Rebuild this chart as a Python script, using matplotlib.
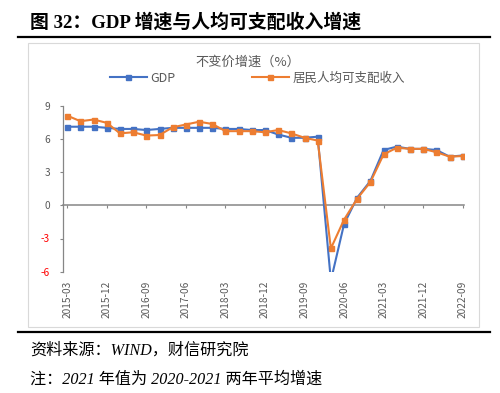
import matplotlib
matplotlib.use("Agg")
import matplotlib.pyplot as plt
from matplotlib.lines import Line2D
from matplotlib.patches import Rectangle
import numpy as np

plt.rcParams['font.family'] = ['Noto Sans CJK SC', 'DejaVu Sans']

quarters = ["2015-03", "2015-06", "2015-09", "2015-12",
            "2016-03", "2016-06", "2016-09", "2016-12",
            "2017-03", "2017-06", "2017-09", "2017-12",
            "2018-03", "2018-06", "2018-09", "2018-12",
            "2019-03", "2019-06", "2019-09", "2019-12",
            "2020-03", "2020-06", "2020-09", "2020-12",
            "2021-03", "2021-06", "2021-09", "2021-12",
            "2022-03", "2022-06", "2022-09"]
gdp = [7.1, 7.1, 7.1, 7.0, 6.9, 6.9, 6.8, 6.9, 7.0, 7.0, 7.0, 7.0,
       6.9, 6.9, 6.8, 6.8, 6.4, 6.1, 6.1, 6.2, -6.8, -1.7, 0.7, 2.2,
       5.0, 5.3, 5.1, 5.1, 5.0, 4.4, 4.5]
income = [8.1, 7.6, 7.75, 7.45, 6.5, 6.6, 6.3, 6.35, 7.05, 7.3, 7.55, 7.35,
          6.7, 6.7, 6.7, 6.6, 6.8, 6.5, 6.1, 5.85, -3.9, -1.3, 0.6, 2.1,
          4.6, 5.2, 5.1, 5.1, 4.8, 4.4, 4.45]
yticks = [-6, -3, 0, 3, 6, 9]

BLUE = '#4472C4'
ORANGE = '#ED7D31'
GRAY = '#595959'
AXC = '#868686'

W, H = 500, 393
fig = plt.figure(figsize=(W / 100, H / 100), dpi=100)

def fx(px):
    return px / W

def fy(py):
    return 1 - py / H

ax = fig.add_axes([fx(63.3), fy(271.7), fx(464) - fx(63.3), fy(105.7) - fy(271.7)])
x = np.arange(len(quarters))

ax.plot(x, gdp, color=BLUE, lw=1.5, marker='s', ms=3.6, label='GDP', zorder=3)
ax.plot(x, income, color=ORANGE, lw=1.5, marker='s', ms=3.6, label='居民人均可支配收入', zorder=4)

ax.set_xlim(-0.3, 30.1)
ax.set_ylim(-6, 9)
ax.set_yticks(yticks)
ax.set_yticklabels([str(v) for v in yticks])
for lab, v in zip(ax.get_yticklabels(), yticks):
    lab.set_color('#FF0000' if v < 0 else GRAY)
ax.tick_params(axis='y', length=2.2, width=0.8, color=AXC, pad=7.5, labelsize=7.3)

ticks = list(range(0, len(quarters), 3))
ax.set_xticks(ticks)
ax.set_xticklabels([quarters[i] for i in ticks], rotation=90, color=GRAY)
ax.tick_params(axis='x', length=0, pad=6.7, labelsize=7.3)

for s in ['top', 'right', 'bottom']:
    ax.spines[s].set_visible(False)
ax.spines['left'].set_color(AXC)
ax.spines['left'].set_linewidth(0.9)

# zero axis with tick marks
sec = ax.secondary_xaxis(6 / 15)
sec.set_xticks(ticks)
sec.set_xticklabels([])
sec.tick_params(axis='x', length=2.2, width=0.8, color=AXC, direction='out')
sec.spines['bottom'].set_color(AXC)
sec.spines['bottom'].set_linewidth(1.1)
sec.set_zorder(1)

# chart title and legend
fig.text(fx(248), fy(62), '不变价增速（%）', ha='center', va='center', fontsize=9.5, color=GRAY)
handles, labels = ax.get_legend_handles_labels()
fig.legend(handles, labels, loc='center left', bbox_to_anchor=(fx(110), fy(78)), ncol=2,
           frameon=False, handlelength=2.95, handletextpad=0.3, columnspacing=6.1,
           borderpad=0, borderaxespad=0, fontsize=9, labelcolor=GRAY)

# frame and rules
fig.add_artist(Rectangle((fx(28), fy(327)), fx(479) - fx(28), fy(43) - fy(327),
                         transform=fig.transFigure, fill=False, edgecolor='#d9d9d9', lw=0.8))
fig.add_artist(Line2D([fx(18), fx(490)], [fy(36.5), fy(36.5)], transform=fig.transFigure,
                      color='black', lw=1.6))
fig.add_artist(Line2D([fx(18), fx(490)], [fy(332), fy(332)], transform=fig.transFigure,
                      color='black', lw=1.6))

# texts
fig.text(fx(30), fy(22), '图 32：GDP 增速与人均可支配收入增速', ha='left', va='center',
         fontsize=13.6, fontweight='bold', family=['Liberation Serif', 'Noto Sans CJK SC'])
fig.text(fx(30), fy(351), '资料来源：WIND，财信研究院', ha='left', va='center',
         fontsize=11.6, style='italic', family=['Liberation Serif', 'Noto Sans CJK SC'])
fig.text(fx(30), fy(380), '注：2021 年值为 2020-2021 两年平均增速', ha='left', va='center',
         fontsize=11.6, style='italic', family=['Liberation Serif', 'Noto Sans CJK SC'])

fig.savefig('out.png', dpi=100)
